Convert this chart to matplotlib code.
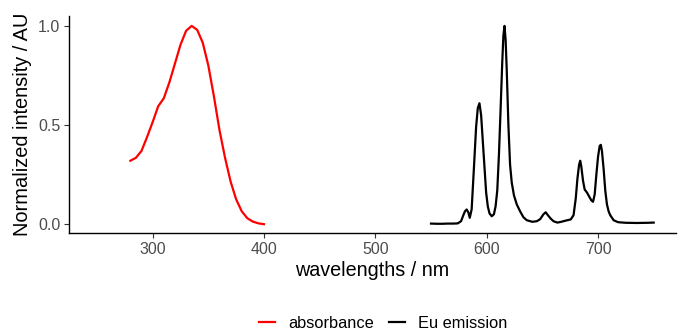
import matplotlib
matplotlib.use('Agg')
import matplotlib.pyplot as plt
from matplotlib.lines import Line2D

plt.rcParams['font.family'] = ['Liberation Sans', 'DejaVu Sans']

# absorbance spectrum (normalized)
abs_wl = [280, 285, 290, 295, 300, 305, 310, 315, 320, 325, 330, 335, 340,
          345, 350, 355, 360, 365, 370, 375, 380, 385, 390, 395, 400]
abs_int = [0.32, 0.335, 0.37, 0.44, 0.515, 0.595, 0.635, 0.715, 0.81, 0.905,
           0.975, 1.0, 0.98, 0.915, 0.80, 0.645, 0.475, 0.335, 0.215, 0.125,
           0.065, 0.03, 0.013, 0.004, 0.0]

# Eu emission spectrum (normalized)
em_wl = [550, 555, 560, 565, 570, 574, 577, 579, 580.5, 582, 583.5, 584.8,
         586.5, 588.5, 590.5, 592, 593.5, 595, 596.5, 598, 599.5, 601, 602.5,
         604.5, 606.5, 608, 609.5, 611, 612.5, 614, 615, 616, 617, 618,
         619.5, 621, 622.5, 624.5, 627, 630, 633, 636, 641, 645, 648, 651,
         653, 655, 657.5, 660, 663.5, 667, 671, 675.5, 678, 680, 681.5, 683,
         684, 685, 686.5, 688, 690, 692, 694, 695.5, 697, 698.5, 700, 701.5,
         702.5, 703.5, 705, 706.5, 708, 709.5, 711, 714, 718, 725, 735, 745,
         750]
em_int = [0.003, 0.002, 0.002, 0.003, 0.003, 0.004, 0.015, 0.045, 0.065,
          0.074, 0.06, 0.032, 0.075, 0.28, 0.49, 0.585, 0.61, 0.55, 0.42,
          0.29, 0.16, 0.09, 0.055, 0.04, 0.05, 0.09, 0.17, 0.35, 0.58, 0.82,
          0.95, 1.0, 0.93, 0.78, 0.50, 0.30, 0.21, 0.145, 0.10, 0.065, 0.035,
          0.02, 0.012, 0.015, 0.025, 0.05, 0.06, 0.045, 0.028, 0.015, 0.008,
          0.012, 0.018, 0.024, 0.045, 0.13, 0.23, 0.30, 0.32, 0.29, 0.22,
          0.175, 0.16, 0.14, 0.12, 0.113, 0.15, 0.25, 0.34, 0.395, 0.40,
          0.37, 0.28, 0.17, 0.10, 0.065, 0.045, 0.02, 0.01, 0.007, 0.006,
          0.007, 0.008]

fig = plt.figure(figsize=(6.78, 3.33), dpi=100)
ax = fig.add_axes([0.102, 0.300, 0.895, 0.652])

ax.plot(abs_wl, abs_int, color='#ff0000', lw=1.6, solid_joinstyle='round')
ax.plot(em_wl, em_int, color='black', lw=1.6, solid_joinstyle='round')

ax.set_xlim(225, 770)
ax.set_ylim(-0.045, 1.05)
ax.set_xticks([300, 400, 500, 600, 700])
ax.set_yticks([0.0, 0.5, 1.0])
ax.set_yticklabels(['0.0', '0.5', '1.0'])

for s in ('top', 'right'):
    ax.spines[s].set_visible(False)
for s in ('left', 'bottom'):
    ax.spines[s].set_linewidth(1.0)
ax.tick_params(length=3.5, width=0.8, color='#333333', labelsize=11.5,
               labelcolor='#4d4d4d', pad=3)

ax.set_xlabel('wavelengths / nm', fontsize=14.2, labelpad=3)
ax.set_ylabel('Normalized intensity / AU', fontsize=14.4, labelpad=4)

handles = [Line2D([], [], color='#ff0000', lw=1.6),
           Line2D([], [], color='black', lw=1.6)]
fig.legend(handles, ['absorbance', 'Eu emission'], loc='center',
           bbox_to_anchor=(0.565, 0.03), ncol=2, frameon=False,
           fontsize=11.8, handlelength=1.0, handletextpad=0.8,
           columnspacing=0.9)

fig.savefig('out.png', dpi=100)
